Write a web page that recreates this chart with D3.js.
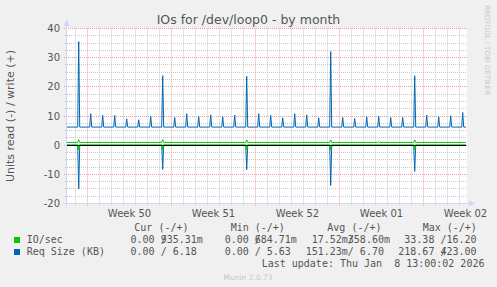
<!DOCTYPE html>
<html>
<head>
<meta charset="utf-8">
<script src="https://cdn.jsdelivr.net/npm/d3@7"></script>
<style>
  body { margin: 0; background: #f0f0f0; }
  svg text { white-space: pre; }
</style>
</head>
<body>
<div id="chart-area"></div>
<script>
// Datos (un pico por día a las 06:25)
var spikeDays = ["2025-12-07", "2025-12-08", "2025-12-09", "2025-12-10", "2025-12-11", "2025-12-12", "2025-12-13",
    "2025-12-14", "2025-12-15", "2025-12-16", "2025-12-17", "2025-12-18", "2025-12-19", "2025-12-20",
    "2025-12-21", "2025-12-22", "2025-12-23", "2025-12-24", "2025-12-25", "2025-12-26", "2025-12-27",
    "2025-12-28", "2025-12-29", "2025-12-30", "2025-12-31", "2026-01-01", "2026-01-02", "2026-01-03",
    "2026-01-04", "2026-01-05", "2026-01-06", "2026-01-07", "2026-01-08"];

var writeReqSize = [35.5, 10.8, 10.2, 10.2, 9.0, 8.7, 9.9, 23.8, 9.5, 10.8, 9.8, 10.4, 9.7, 10.3,
    23.6, 10.8, 10.2, 9.4, 10.8, 10.4, 9.4, 32.1, 9.5, 9.1, 9.7, 9.9, 9.5, 9.5, 23.8, 10.3, 9.7, 10.1, 11.2];
var readReqSize = [14.9, 0, 0, 0, 0, 0, 0, 8.3, 0, 0, 0, 0, 0, 0, 8.4, 0, 0, 0, 0, 0, 0,
    13.8, 0, 0, 0, 0, 0, 0, 9.0, 0, 0, 0, 0];
var writeIO = [1.9, 0.94, 0.94, 0.94, 0.94, 0.94, 0.94, 1.9, 0.94, 0.94, 0.94, 0.94, 0.94, 0.94,
    1.8, 0.94, 0.94, 0.94, 0.94, 0.94, 0.94, 1.8, 0.94, 0.94, 0.94, 1.2, 0.94, 0.94, 1.8, 0.94, 0.94, 0.94, 0.94];
var readIO = [1.7, 0, 0, 0, 0, 0, 0, 1.6, 0, 0, 0, 0, 0, 0, 1.6, 0, 0, 0, 0, 0, 0,
    1.7, 0, 0, 0, 0, 0, 0, 1.6, 0, 0, 0, 0];
var writeReqSizeBase = 6.2;
var writeIOBase = 0.94;

var yTicks = [-20, -10, 0, 10, 20, 30, 40];

var legendHeaders = ["Cur (-/+)", "Min (-/+)", "Avg (-/+)", "Max (-/+)"];
var legendNames = ["IO/sec", "Req Size (KB)"];
var legendColors = ["#00cc00", "#0066b3"];
var legendNeg = [["0.00", "0.00", "17.52m", "33.38"], ["0.00", "0.00", "151.23m", "218.67"]];
var legendPos = [["935.31m", "684.71m", "358.60m", "16.20"], ["6.18", "5.63", "6.70", "423.00"]];

var W = 497, H = 287;
var plotLeft = 67, plotRight = 467, plotTop = 28.5, plotBottom = 203.5;
var fontSans = "DejaVu Sans", fontMono = "DejaVu Sans Mono";
var textColor = "#555";

var svg = d3.select("#chart-area").append("svg")
    .attr("width", W)
    .attr("height", H);

svg.append("rect")
    .attr("width", W).attr("height", H)
    .attr("fill", "#f0f0f0");

var x = d3.scaleUtc()
    .domain([new Date(Date.UTC(2025, 11, 6, 7)), new Date(Date.UTC(2026, 0, 8, 15))])
    .range([plotLeft, plotRight]);
var y = d3.scaleLinear()
    .domain([-20, 40])
    .range([plotBottom, plotTop]);

// Lienzo blanco
svg.append("rect")
    .attr("x", plotLeft).attr("y", 28)
    .attr("width", plotRight - plotLeft).attr("height", 176)
    .attr("fill", "#ffffff");

var px = v => Math.floor(v) + 0.5;

// Rejilla horizontal
var minorY = d3.range(-20, 40.1, 2.5).filter(v => v % 10 !== 0);
svg.selectAll("line.ygrid")
    .data(minorY)
    .enter().append("line")
    .attr("x1", plotLeft - 2).attr("x2", plotRight)
    .attr("y1", d => px(y(d))).attr("y2", d => px(y(d)))
    .attr("stroke", "#c8c8c8")
    .attr("stroke-dasharray", "1,1");

svg.selectAll("line.ymgrid")
    .data(yTicks)
    .enter().append("line")
    .attr("x1", plotLeft - 3).attr("x2", plotRight)
    .attr("y1", d => px(y(d))).attr("y2", d => px(y(d)))
    .attr("stroke", "#e6a0a0")
    .attr("stroke-dasharray", "1,1");

// Rejilla vertical
var mondays = d3.utcMonday.range(x.domain()[0], x.domain()[1]);
var days = d3.utcDay.range(x.domain()[0], x.domain()[1]).filter(d => d.getUTCDay() !== 1);

svg.selectAll("line.xgrid")
    .data(days)
    .enter().append("line")
    .attr("x1", d => px(x(d))).attr("x2", d => px(x(d)))
    .attr("y1", plotTop).attr("y2", plotBottom + 2)
    .attr("stroke", "#c8c8c8")
    .attr("stroke-dasharray", "1,1");

svg.selectAll("line.xmgrid")
    .data(mondays)
    .enter().append("line")
    .attr("x1", d => px(x(d))).attr("x2", d => px(x(d)))
    .attr("y1", plotTop).attr("y2", plotBottom + 3)
    .attr("stroke", "#e6a0a0")
    .attr("stroke-dasharray", "1,1");

// Series
var spikeTime = d => new Date(d + "T06:25:00Z");
var startT = x.domain()[0];
var endT = new Date(Date.UTC(2026, 0, 8, 13));
var hour = 3600 * 1000;

function spikes(peaks, base, sign) {
    var pts = [{t: startT, v: sign * base}];
    spikeDays.forEach(function(d, i) {
        var t = spikeTime(d);
        if (peaks[i] === base) return;
        pts.push({t: new Date(+t - 2 * hour), v: sign * base});
        pts.push({t: t, v: sign * peaks[i]});
        pts.push({t: new Date(+t + 2 * hour), v: sign * base});
    });
    pts.push({t: endT, v: sign * base});
    return pts;
}

var line = d3.line()
    .x(d => x(d.t))
    .y(d => y(d.v));

svg.append("path")
    .datum(spikes(writeIO, writeIOBase, 1))
    .attr("d", line)
    .attr("fill", "none")
    .attr("stroke", legendColors[0])
    .attr("stroke-width", 1);

svg.append("path")
    .datum(spikes(writeReqSize, writeReqSizeBase, 1))
    .attr("d", line)
    .attr("fill", "none")
    .attr("stroke", legendColors[1])
    .attr("stroke-width", 1);

svg.append("path")
    .datum(spikes(readReqSize, 0, -1))
    .attr("d", line)
    .attr("fill", "none")
    .attr("stroke", legendColors[1])
    .attr("stroke-width", 1);

svg.append("path")
    .datum(spikes(readIO, 0, -1))
    .attr("d", line)
    .attr("fill", "none")
    .attr("stroke", legendColors[0])
    .attr("stroke-width", 1.2);

// Línea de cero
svg.append("line")
    .attr("x1", plotLeft).attr("x2", plotRight - 1)
    .attr("y1", px(y(0))).attr("y2", px(y(0)))
    .attr("stroke", "#000")
    .attr("stroke-width", 1);

// Ejes con flechas
var axisColor = "#cfd6f8";
svg.append("line")
    .attr("x1", plotLeft - 0.5).attr("x2", plotLeft - 0.5)
    .attr("y1", plotBottom + 3).attr("y2", 24)
    .attr("stroke", axisColor);
svg.append("line")
    .attr("x1", plotLeft - 4).attr("x2", plotRight + 3)
    .attr("y1", plotBottom).attr("y2", plotBottom)
    .attr("stroke", axisColor);
svg.append("path")
    .attr("d", `M${plotLeft - 3.5},26 L${plotLeft - 0.5},19 L${plotLeft + 2.5},26 Z`)
    .attr("fill", axisColor);
svg.append("path")
    .attr("d", `M${plotRight + 2},${plotBottom - 3} L${plotRight + 8},${plotBottom} L${plotRight + 2},${plotBottom + 3} Z`)
    .attr("fill", axisColor);

// Etiquetas del eje Y
svg.selectAll("text.ytick")
    .data(yTicks)
    .enter().append("text")
    .attr("x", 60)
    .attr("y", d => px(y(d)) + 3.5)
    .attr("text-anchor", "end")
    .attr("font-family", fontSans)
    .attr("font-size", "10px")
    .attr("fill", textColor)
    .text(d => d);

// Etiquetas del eje X
var fmtWeek = d3.utcFormat("Week %V");
svg.selectAll("text.xtick")
    .data(mondays)
    .enter().append("text")
    .attr("x", d => x(new Date(+d + 3.5 * 24 * hour)))
    .attr("y", 216.5)
    .attr("text-anchor", "middle")
    .attr("font-family", fontSans)
    .attr("font-size", "10px")
    .attr("fill", textColor)
    .text(d => fmtWeek(d));

// Título
svg.append("text")
    .attr("x", 248.5)
    .attr("y", 24)
    .attr("text-anchor", "middle")
    .attr("font-family", fontSans)
    .attr("font-size", "12.5px")
    .attr("fill", textColor)
    .text("IOs for /dev/loop0 - by month");

// Etiqueta vertical
svg.append("text")
    .attr("transform", "translate(14," + ((plotTop + plotBottom) / 2) + ") rotate(-90)")
    .attr("text-anchor", "middle")
    .attr("font-family", fontSans)
    .attr("font-size", "11px")
    .attr("fill", textColor)
    .text("Units read (-) / write (+)");

svg.append("text")
    .attr("transform", "translate(485,5) rotate(90)")
    .attr("font-family", fontSans)
    .attr("font-size", "7px")
    .attr("fill", "#c8c8c8")
    .text("RRDTOOL / TOBI OETIKER");

// Leyenda
var colStart = [118.5, 212.6, 305.7, 398.3];
var headerX = [134.3, 230.7, 327.3, 422.7];
var adv = 6.02;
var rowY = [243, 255];

svg.selectAll("text.lhead")
    .data(legendHeaders)
    .enter().append("text")
    .attr("x", (d, i) => headerX[i])
    .attr("y", 231)
    .attr("font-family", fontMono)
    .attr("font-size", "10px")
    .attr("fill", textColor)
    .text(d => d);

legendNames.forEach(function(name, r) {
    svg.append("rect")
        .attr("x", 14).attr("y", rowY[r] - 6)
        .attr("width", 6).attr("height", 6)
        .attr("fill", legendColors[r]);
    svg.append("text")
        .attr("x", 26.7).attr("y", rowY[r])
        .attr("font-family", fontMono)
        .attr("font-size", "10px")
        .attr("fill", textColor)
        .text(name);
    legendNeg[r].forEach(function(v, c) {
        // el campo positivo empieza justo donde está la "/" (se solapan como en rrdtool)
        var neg = /[a-z]$/.test(v) ? v : v + " ";
        svg.append("text")
            .attr("x", colStart[c] + 8 * adv).attr("y", rowY[r])
            .attr("text-anchor", "end")
            .attr("font-family", fontMono)
            .attr("font-size", "10px")
            .attr("fill", textColor)
            .text(neg + "/");
        var pos = legendPos[r][c];
        var posTxt = /[a-z]$/.test(pos) ? pos : pos + " ";
        while (posTxt.length < 7) posTxt = " " + posTxt;
        svg.append("text")
            .attr("x", colStart[c] + 7 * adv).attr("y", rowY[r])
            .attr("font-family", fontMono)
            .attr("font-size", "10px")
            .attr("fill", textColor)
            .text(posTxt);
    });
});

svg.append("text")
    .attr("x", 261.7).attr("y", 266.5)
    .attr("font-family", fontMono)
    .attr("font-size", "10px")
    .attr("fill", textColor)
    .text("Last update: Thu Jan  8 13:00:02 2026");

svg.append("text")
    .attr("x", 248).attr("y", 279.5)
    .attr("text-anchor", "middle")
    .attr("font-family", fontSans)
    .attr("font-size", "7.5px")
    .attr("fill", "#c8c8c8")
    .text("Munin 2.0.73");
</script>
</body>
</html>
